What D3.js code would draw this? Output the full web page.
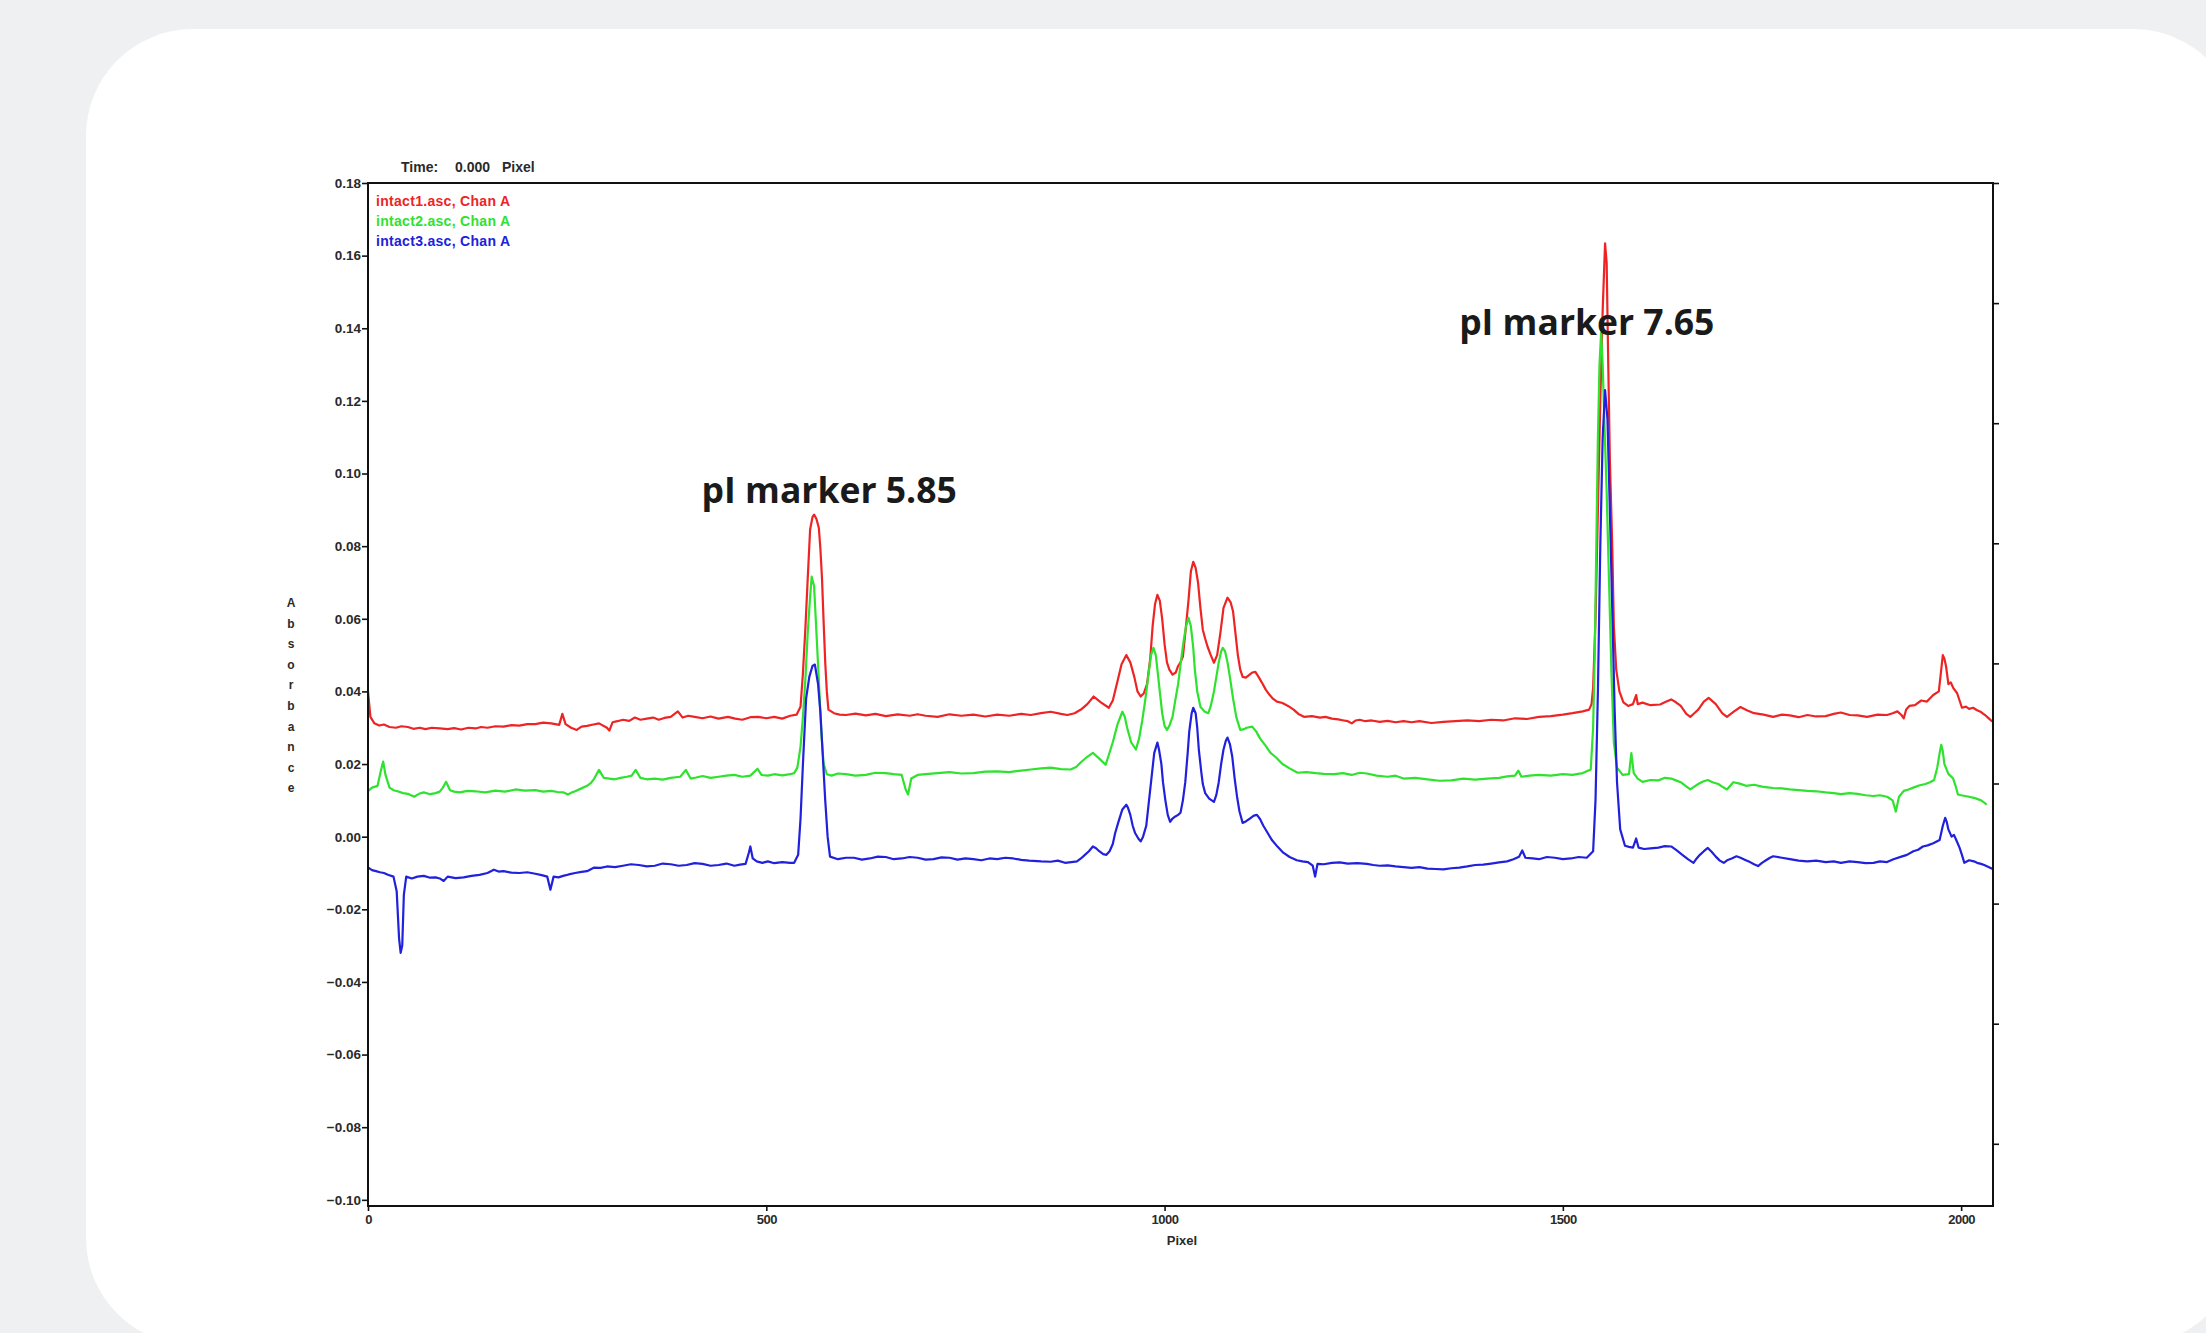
<!DOCTYPE html>
<html>
<head>
<meta charset="utf-8">
<script src="https://cdn.jsdelivr.net/npm/d3@7/dist/d3.min.js"></script>
<style>
  html, body { margin: 0; padding: 0; background: #eff0f2; }
  svg { display: block; }
</style>
</head>
<body>
<script>
// ---------- DATA ----------
const xTicks = [0, 500, 1000, 1500, 2000];
const yTicks = [-0.10, -0.08, -0.06, -0.04, -0.02, 0.00, 0.02, 0.04, 0.06, 0.08, 0.10, 0.12, 0.14, 0.16, 0.18];
const rightTicks = [0, 1, 2, 3, 4, 5, 6, 7, 8];
const seriesNames = ["intact1.asc, Chan A", "intact2.asc, Chan A", "intact3.asc, Chan A"];
const yTitleLetters = ["A", "b", "s", "o", "r", "b", "a", "n", "c", "e"];
const annotations = [
  { text: "pI marker 5.85", x: 579, y: 0.0919 },
  { text: "pI marker 7.65", x: 1530, y: 0.1381 }
];

const red = [
 [0,0.040],[3,0.033],[8,0.0312],[14,0.0306],[20,0.0309],[27,0.0302],[35,0.0300],[42,0.0304],[50,0.0302],[57,0.0297],[65,0.0300],[72,0.0296],[80,0.0300],[90,0.0298],[100,0.0296],[108,0.0299],[117,0.0295],
 [126,0.0300],[135,0.0298],[142,0.0302],[150,0.0300],[160,0.0304],[170,0.0303],[180,0.0307],[190,0.0306],[200,0.0310],[210,0.0310],[220,0.0314],[230,0.0312],[240,0.0308],[244,0.0338],[248,0.0310],
 [255,0.0300],[262,0.0294],[268,0.0303],[275,0.0305],[283,0.0309],[290,0.0312],[300,0.0300],[303,0.0292],[307,0.0315],[313,0.0318],[320,0.0322],[328,0.0319],[335,0.0328],[342,0.0322],
 [350,0.0325],[358,0.0328],[365,0.0322],[372,0.0327],[380,0.0330],[389,0.0345],[395,0.0328],[402,0.0333],[410,0.0330],[420,0.0326],[430,0.0331],[440,0.0325],[452,0.0330],[461,0.0325],[470,0.0322],
 [480,0.0329],[490,0.0330],[500,0.0326],[510,0.0330],[520,0.0325],[530,0.0333],[538,0.0336],[543,0.0358],[546,0.0450],[549,0.0570],[552,0.0710],[555,0.0845],
 [558,0.0880],[560,0.0887],[563,0.0875],[566,0.0850],[568,0.0790],[570,0.0708],[572,0.0590],[574,0.0480],[576,0.0400],
 [578,0.0350],[585,0.0340],[592,0.0336],[600,0.0335],[612,0.0339],[625,0.0334],[637,0.0338],[650,0.0332],[665,0.0337],[680,0.0333],[690,0.0337],[700,0.0333],[715,0.0330],[730,0.0337],[745,0.0333],[760,0.0336],
 [775,0.0331],[790,0.0336],[805,0.0333],[820,0.0338],[832,0.0335],[845,0.0340],[857,0.0344],[870,0.0338],[878,0.0335],[887,0.0340],[895,0.0350],[903,0.0365],[911,0.0386],[920,0.0370],
 [930,0.0355],[935,0.0375],[940,0.0420],[946,0.0475],[952,0.0500],[957,0.0480],[962,0.0440],[966,0.0400],[970,0.0386],[974,0.0395],[978,0.0420],[982,0.0490],[985,0.0580],[988,0.0640],[991,0.0666],[994,0.0650],[997,0.0600],
 [1000,0.0530],[1003,0.0480],[1006,0.0460],[1010,0.0446],[1014,0.0452],[1017,0.0470],[1020,0.0480],[1023,0.0496],[1026,0.0560],[1030,0.0650],[1033,0.0730],[1036,0.0757],[1039,0.0740],[1042,0.0700],[1045,0.0630],[1048,0.0570],
 [1051,0.0545],[1054,0.0523],[1058,0.0500],[1062,0.0479],[1066,0.0500],[1070,0.0560],[1074,0.0630],[1079,0.0658],[1083,0.0645],[1086,0.0620],[1089,0.0560],[1092,0.0500],[1095,0.0460],[1098,0.0440],[1102,0.0438],[1106,0.0445],
 [1110,0.0452],[1114,0.0454],[1118,0.0440],[1122,0.0425],[1127,0.0405],[1132,0.0390],[1136,0.0380],[1141,0.0372],[1148,0.0368],[1155,0.0360],[1162,0.0350],[1168,0.0338],[1175,0.0330],[1185,0.0332],[1195,0.0328],[1202,0.0330],[1210,0.0325],
 [1218,0.0323],[1225,0.0320],[1230,0.0318],[1235,0.0312],[1240,0.0320],[1245,0.0322],[1252,0.0318],[1260,0.0320],[1270,0.0316],[1280,0.0319],[1290,0.0315],[1300,0.0318],[1310,0.0315],[1320,0.0318],[1335,0.0313],[1350,0.0316],[1365,0.0318],[1380,0.0320],
 [1395,0.0318],[1410,0.0322],[1425,0.0320],[1440,0.0326],[1455,0.0324],[1470,0.0330],[1485,0.0332],[1500,0.0336],[1512,0.0340],[1525,0.0345],[1533,0.0350],[1536,0.0365],[1538,0.0410],
 [1541,0.0600],[1544,0.0900],[1547,0.1200],[1550,0.1450],[1553,0.1634],[1555,0.1580],[1557,0.1300],[1559,0.1040],
 [1562,0.0800],[1564,0.0580],[1567,0.0460],[1571,0.0400],[1576,0.0370],[1582,0.0360],[1588,0.0365],[1592,0.0390],
 [1594,0.0365],[1600,0.0369],[1610,0.0362],[1622,0.0364],[1630,0.0372],[1636,0.0378],[1642,0.0370],[1648,0.0360],[1655,0.0338],[1660,0.0330],[1665,0.0340],[1670,0.0350],[1677,0.0372],[1683,0.0382],
 [1692,0.0365],[1700,0.0340],[1706,0.0330],[1715,0.0345],[1723,0.0357],[1731,0.0348],[1740,0.0340],[1752,0.0336],[1764,0.0330],[1775,0.0336],[1785,0.0334],[1796,0.0329],[1807,0.0335],[1818,0.0331],
 [1830,0.0332],[1840,0.0338],[1849,0.0342],[1860,0.0335],[1870,0.0334],[1882,0.0330],[1895,0.0336],[1907,0.0335],[1914,0.0340],[1920,0.0345],[1925,0.0335],[1928,0.0326],[1931,0.0350],[1935,0.0360],[1942,0.0362],
 [1950,0.0375],[1957,0.0372],[1965,0.0390],[1972,0.0400],[1975,0.0460],[1977,0.0500],[1979,0.0490],[1981,0.0470],[1984,0.0420],[1987,0.0425],[1990,0.0410],[1995,0.0395],
 [2001,0.0355],[2006,0.0358],[2010,0.0352],[2015,0.0355],[2020,0.0348],[2025,0.0343],[2030,0.0335],[2035,0.0325],[2039,0.0317]
];

const green = [
 [0,0.0125],[5,0.0135],[12,0.0140],[16,0.0180],[19,0.0207],[22,0.0170],[27,0.0135],[32,0.0128],[37,0.0125],[44,0.0120],[50,0.0118],[58,0.0110],
 [64,0.0118],[70,0.0122],[78,0.0117],[85,0.0120],[90,0.0124],[94,0.0135],[98,0.0151],[103,0.0128],[108,0.0124],[115,0.0122],[125,0.0126],[135,0.0125],[147,0.0122],[160,0.0127],[172,0.0124],[185,0.0130],
 [197,0.0127],[210,0.0128],[220,0.0124],[230,0.0126],[238,0.0123],[245,0.0122],[251,0.0116],[256,0.0122],[260,0.0125],[268,0.0133],[275,0.0140],[280,0.0148],[284,0.0160],[290,0.0184],[296,0.0162],
 [303,0.0160],[310,0.0158],[317,0.0162],[325,0.0165],[331,0.0168],[336,0.0184],[342,0.0162],[350,0.0158],[360,0.0160],[370,0.0157],[380,0.0162],[392,0.0165],[399,0.0184],[405,0.0160],
 [412,0.0163],[420,0.0167],[430,0.0162],[440,0.0165],[450,0.0168],[460,0.0170],[470,0.0165],[480,0.0168],[489,0.0187],[494,0.0170],[502,0.0168],[510,0.0172],[520,0.0169],[530,0.0172],[535,0.0175],
 [539,0.0190],[543,0.0248],[546,0.0330],[549,0.0430],[552,0.0560],[555,0.0660],[557,0.0716],[560,0.0690],[563,0.0560],
 [566,0.0430],[569,0.0290],[572,0.0200],[576,0.0172],[582,0.0168],[590,0.0174],[600,0.0172],[612,0.0168],[625,0.0170],[637,0.0176],[650,0.0175],[660,0.0172],[670,0.0170],
 [675,0.0130],[678,0.0116],[682,0.0160],[690,0.0170],[700,0.0172],[715,0.0175],[730,0.0178],[745,0.0174],[760,0.0175],[775,0.0179],[790,0.0180],[805,0.0178],[820,0.0182],[832,0.0185],[845,0.0188],
 [857,0.0190],[870,0.0186],[882,0.0185],[889,0.0192],[895,0.0205],[903,0.0220],[910,0.0231],[918,0.0215],[926,0.0198],[930,0.0225],[935,0.0260],[941,0.0310],
 [947,0.0344],[950,0.0330],[953,0.0300],[958,0.0260],[964,0.0240],[968,0.0270],[972,0.0320],[976,0.0380],[980,0.0450],[983,0.0500],[986,0.0520],[989,0.0500],[991,0.0460],[994,0.0400],[997,0.0340],
 [1000,0.0305],[1003,0.0294],[1006,0.0305],[1010,0.0330],[1013,0.0370],[1017,0.0420],[1021,0.0490],[1024,0.0540],[1027,0.0580],[1030,0.0603],[1033,0.0580],[1036,0.0520],[1038,0.0460],[1041,0.0400],[1045,0.0358],
 [1050,0.0345],[1055,0.0340],[1058,0.0360],[1062,0.0400],[1065,0.0440],[1068,0.0480],[1071,0.0510],[1073,0.0520],[1076,0.0510],[1079,0.0480],[1082,0.0440],[1086,0.0380],[1090,0.0330],[1095,0.0294],[1100,0.0296],[1103,0.0300],
 [1110,0.0303],[1115,0.0290],[1120,0.0270],[1127,0.0250],[1133,0.0231],[1140,0.0218],[1148,0.0200],[1157,0.0188],[1167,0.0176],[1178,0.0178],[1190,0.0175],[1200,0.0173],[1213,0.0172],[1224,0.0175],[1235,0.0170],
 [1245,0.0176],[1254,0.0174],[1266,0.0168],[1280,0.0165],[1290,0.0168],[1300,0.0160],[1315,0.0162],[1330,0.0158],[1345,0.0154],[1360,0.0155],[1375,0.0160],[1390,0.0157],[1405,0.0160],[1420,0.0162],[1430,0.0166],[1440,0.0168],
 [1444,0.0182],[1448,0.0165],[1458,0.0168],[1470,0.0170],[1485,0.0168],[1500,0.0172],[1512,0.0170],[1525,0.0175],[1535,0.0185],[1538,0.0300],[1540,0.0500],
 [1542,0.0800],[1544,0.1100],[1546,0.1300],[1548,0.1387],[1550,0.1300],[1552,0.1150],[1555,0.0950],[1558,0.0700],
 [1561,0.0450],[1564,0.0260],[1568,0.0190],[1575,0.0170],[1583,0.0172],[1586,0.0230],[1589,0.0175],[1594,0.0160],[1600,0.0151],
 [1610,0.0156],[1620,0.0155],[1628,0.0162],[1636,0.0160],[1642,0.0155],[1648,0.0150],[1654,0.0140],[1660,0.0130],[1665,0.0138],[1670,0.0145],[1676,0.0152],[1682,0.0156],[1688,0.0150],[1695,0.0145],[1700,0.0138],[1706,0.0130],
 [1714,0.0150],[1722,0.0146],[1730,0.0140],[1740,0.0143],[1750,0.0138],[1757,0.0136],[1764,0.0134],[1775,0.0133],[1785,0.0130],[1796,0.0128],[1807,0.0126],[1818,0.0125],[1830,0.0122],[1840,0.0120],[1849,0.0117],
 [1860,0.0120],[1870,0.0118],[1880,0.0114],[1890,0.0112],[1898,0.0114],[1907,0.0110],[1914,0.0100],[1918,0.0069],[1922,0.0110],[1928,0.0126],[1934,0.0130],[1940,0.0135],[1947,0.0141],
 [1955,0.0145],[1961,0.0150],[1966,0.0156],[1970,0.0190],[1973,0.0230],[1975,0.0253],[1977,0.0235],[1979,0.0200],[1984,0.0173],[1990,0.0160],[1993,0.0140],[1996,0.0116],
 [2000,0.0114],[2005,0.0112],[2010,0.0110],[2016,0.0107],[2020,0.0104],[2025,0.0100],[2029,0.0094],[2032,0.0088]
];

const blue = [
 [0,-0.0085],[5,-0.0092],[10,-0.0095],[15,-0.0098],[20,-0.0100],[25,-0.0105],[32,-0.0110],[36,-0.0150],[39,-0.0280],[41,-0.0320],[43,-0.0300],
 [45,-0.0160],[48,-0.0110],[55,-0.0115],[62,-0.0110],[70,-0.0108],[78,-0.0113],[85,-0.0112],[90,-0.0115],[95,-0.0122],[100,-0.0110],[110,-0.0114],[120,-0.0112],[130,-0.0108],[140,-0.0105],
 [150,-0.0100],[158,-0.0091],[164,-0.0096],[170,-0.0095],[180,-0.0099],[190,-0.0100],[200,-0.0098],[210,-0.0102],[218,-0.0106],[225,-0.0110],[229,-0.0146],[233,-0.0110],[239,-0.0112],[245,-0.0108],
 [252,-0.0104],[260,-0.0100],[268,-0.0097],[275,-0.0095],[284,-0.0085],[292,-0.0086],[300,-0.0082],[310,-0.0084],[320,-0.0080],[330,-0.0076],[340,-0.0078],[350,-0.0082],[360,-0.0080],[370,-0.0074],[380,-0.0076],
 [390,-0.0080],[400,-0.0078],[410,-0.0073],[420,-0.0075],[430,-0.0080],[440,-0.0078],[450,-0.0074],[460,-0.0080],[467,-0.0077],[474,-0.0075],[478,-0.0045],[480,-0.0027],[483,-0.0060],
 [488,-0.0068],[495,-0.0072],[502,-0.0068],[510,-0.0073],[520,-0.0070],[530,-0.0072],[535,-0.0072],[540,-0.0050],[543,0.0050],[546,0.0200],[550,0.0380],
 [554,0.0440],[558,0.0470],[561,0.0474],[565,0.0420],[568,0.0340],[571,0.0220],[574,0.0100],[577,0.0000],[580,-0.0055],
 [590,-0.0062],[600,-0.0058],[610,-0.0058],[620,-0.0063],[630,-0.0060],[640,-0.0055],[650,-0.0056],[660,-0.0062],[670,-0.0060],[680,-0.0056],[690,-0.0058],[700,-0.0063],[710,-0.0062],[720,-0.0057],[730,-0.0058],
 [740,-0.0063],[750,-0.0060],[760,-0.0062],[770,-0.0065],[780,-0.0060],[790,-0.0062],[800,-0.0058],[810,-0.0060],[820,-0.0064],[830,-0.0066],[845,-0.0068],[857,-0.0069],[866,-0.0066],[875,-0.0072],
 [883,-0.0070],[890,-0.0068],[895,-0.0060],[900,-0.0050],[905,-0.0040],[910,-0.0027],[914,-0.0032],[918,-0.0040],[923,-0.0048],[927,-0.0050],[931,-0.0040],[935,-0.0020],[938,0.0010],[942,0.0040],[947,0.0075],
 [952,0.0088],[954,0.0080],[957,0.0060],[960,0.0030],[963,0.0010],[967,-0.0005],[970,-0.0013],[973,0.0000],[977,0.0030],[980,0.0090],[983,0.0150],[987,0.0230],[991,0.0259],[993,0.0240],[996,0.0200],
 [998,0.0150],[1001,0.0100],[1004,0.0060],[1007,0.0041],[1010,0.0050],[1013,0.0055],[1017,0.0060],[1020,0.0066],[1023,0.0100],[1026,0.0150],[1029,0.0230],[1031,0.0290],[1034,0.0340],[1036,0.0355],[1039,0.0340],[1041,0.0300],[1043,0.0240],
 [1046,0.0180],[1048,0.0145],[1051,0.0120],[1056,0.0105],[1062,0.0096],[1065,0.0115],[1068,0.0150],[1071,0.0200],[1074,0.0240],[1077,0.0265],[1079,0.0273],[1082,0.0255],[1085,0.0220],[1088,0.0160],
 [1091,0.0110],[1094,0.0070],[1098,0.0038],[1102,0.0042],[1107,0.0050],[1112,0.0058],[1116,0.0060],[1120,0.0048],[1124,0.0030],[1130,0.0008],[1135,-0.0010],[1142,-0.0028],[1149,-0.0044],[1157,-0.0056],[1166,-0.0065],
 [1173,-0.0068],[1180,-0.0070],[1186,-0.0080],[1189,-0.0110],[1192,-0.0075],[1200,-0.0076],[1210,-0.0072],[1220,-0.0071],[1230,-0.0074],[1242,-0.0073],[1254,-0.0075],[1262,-0.0078],
 [1270,-0.0080],[1280,-0.0079],[1290,-0.0082],[1300,-0.0084],[1310,-0.0086],[1320,-0.0084],[1330,-0.0088],[1340,-0.0089],[1350,-0.0090],[1360,-0.0087],[1370,-0.0085],[1380,-0.0082],[1390,-0.0078],[1400,-0.0077],
 [1410,-0.0074],[1420,-0.0071],[1430,-0.0068],[1438,-0.0062],[1445,-0.0055],[1449,-0.0038],[1453,-0.0058],[1462,-0.0060],[1470,-0.0062],[1480,-0.0056],[1490,-0.0058],[1500,-0.0062],
 [1510,-0.0060],[1520,-0.0056],[1530,-0.0058],[1538,-0.0040],[1541,0.0100],[1544,0.0400],[1547,0.0800],[1550,0.1100],[1553,0.1230],
 [1556,0.1150],[1559,0.0900],[1562,0.0630],[1565,0.0350],[1568,0.0150],[1572,0.0020],[1578,-0.0025],[1583,-0.0028],[1588,-0.0030],
 [1592,-0.0005],[1595,-0.0030],[1602,-0.0034],[1610,-0.0032],[1620,-0.0030],[1628,-0.0026],[1636,-0.0027],[1643,-0.0038],[1650,-0.0050],[1657,-0.0062],[1664,-0.0072],[1668,-0.0060],[1672,-0.0050],
 [1677,-0.0040],[1682,-0.0031],[1687,-0.0042],[1692,-0.0055],[1697,-0.0066],[1702,-0.0072],[1707,-0.0064],[1712,-0.0060],[1718,-0.0054],[1723,-0.0058],[1729,-0.0064],[1735,-0.0070],[1740,-0.0076],[1745,-0.0081],
 [1750,-0.0072],[1755,-0.0065],[1760,-0.0058],[1764,-0.0054],[1775,-0.0058],[1785,-0.0062],[1796,-0.0066],[1807,-0.0068],[1818,-0.0066],[1830,-0.0070],[1840,-0.0068],[1849,-0.0072],[1860,-0.0068],[1870,-0.0070],
 [1880,-0.0073],[1890,-0.0072],[1898,-0.0068],[1907,-0.0070],[1915,-0.0062],[1925,-0.0055],[1932,-0.0050],[1940,-0.0040],[1946,-0.0036],[1952,-0.0027],[1958,-0.0024],[1965,-0.0018],[1973,-0.0009],
 [1977,0.0030],[1980,0.0052],[1982,0.0040],[1984,0.0020],[1988,0.0000],[1991,0.0005],[1994,-0.0010],[1998,-0.0030],[2001,-0.0050],[2004,-0.0072],[2010,-0.0065],
 [2016,-0.0068],[2020,-0.0072],[2025,-0.0075],[2029,-0.0078],[2033,-0.0082],[2037,-0.0086],[2040,-0.0090]
];

const seriesColors = ["#ee2424", "#2ee22e", "#2020dd"];

// ---------- CHART ----------
const W = 2206, H = 1333;
const plot = { left: 368, right: 1993, top: 183, bottom: 1206 };

const svg = d3.select("body").append("svg").attr("width", W).attr("height", H);

svg.append("rect").attr("x", 0).attr("y", 0).attr("width", W).attr("height", H).attr("fill", "#eff0f2");
svg.append("rect").attr("x", 86).attr("y", 29).attr("width", 2154).attr("height", 1316)
  .attr("rx", 107).attr("ry", 107).attr("fill", "#ffffff");

const x = d3.scaleLinear().domain([0, 2040]).range([plot.left, plot.right]);
const y = d3.scaleLinear().domain([-0.1017, 0.18]).range([plot.bottom, plot.top]);
const yR = d3.scaleLinear().domain([0, (plot.bottom - plot.top) / 120.1]).range([plot.top, plot.bottom]);

const axisFont = "'Liberation Sans', Arial, sans-serif";

svg.append("defs").append("clipPath").attr("id", "clip")
  .append("rect").attr("x", plot.left).attr("y", plot.top)
  .attr("width", plot.right - plot.left).attr("height", plot.bottom - plot.top);

// series lines
const line = d3.line().x(d => x(d[0])).y(d => y(d[1]));
const gLines = svg.append("g").attr("clip-path", "url(#clip)");
[red, green, blue].forEach((s, i) => {
  gLines.append("path").datum(s).attr("d", line)
    .attr("fill", "none").attr("stroke", seriesColors[i]).attr("stroke-width", 2.2)
    .attr("stroke-linejoin", "round");
});

// frame
svg.append("rect").attr("x", plot.left).attr("y", plot.top)
  .attr("width", plot.right - plot.left).attr("height", plot.bottom - plot.top)
  .attr("fill", "none").attr("stroke", "#111").attr("stroke-width", 2);

// left axis
const gy = svg.append("g").attr("transform", `translate(${plot.left},0)`)
  .call(d3.axisLeft(y).tickValues(yTicks).tickSize(6).tickPadding(1).tickFormat(d3.format(".2f")));
gy.select(".domain").remove();
gy.selectAll("line").attr("stroke", "#111").attr("stroke-width", 1.6);
gy.selectAll("text").attr("font-family", axisFont).attr("font-size", 13.5).attr("font-weight", "bold")
  .attr("fill", "#2a2a2a");

// bottom axis
const gx = svg.append("g").attr("transform", `translate(0,${plot.bottom})`)
  .call(d3.axisBottom(x).tickValues(xTicks).tickSize(5).tickPadding(4).tickFormat(d3.format("d")));
gx.select(".domain").remove();
gx.selectAll("line").attr("stroke", "#111").attr("stroke-width", 1.6);
gx.selectAll("text").attr("font-family", axisFont).attr("font-size", 13).attr("font-weight", "bold")
  .attr("fill", "#2a2a2a").style("letter-spacing", "-0.5px");

// right axis (unlabelled ticks)
const gr = svg.append("g").attr("transform", `translate(${plot.right},0)`)
  .call(d3.axisRight(yR).tickValues(rightTicks).tickSize(6).tickFormat(""));
gr.select(".domain").remove();
gr.selectAll("line").attr("stroke", "#111").attr("stroke-width", 1.6);

// x title
svg.append("text").attr("x", 1182).attr("y", 1245).attr("text-anchor", "middle")
  .attr("font-family", axisFont).attr("font-size", 13).attr("font-weight", "bold").attr("fill", "#2a2a2a")
  .text("Pixel");

// y title (stacked letters)
svg.append("g").selectAll("text").data(yTitleLetters).join("text")
  .attr("x", 291).attr("y", (d, i) => 607 + i * 20.6).attr("text-anchor", "middle")
  .attr("font-family", axisFont).attr("font-size", 12).attr("font-weight", "bold").attr("fill", "#2a2a2a")
  .text(d => d);

// header "Time: 0.000 Pixel"
const hdr = svg.append("g").attr("font-family", axisFont).attr("font-size", 14).attr("font-weight", "bold").attr("fill", "#2a2a2a");
hdr.append("text").attr("x", 401).attr("y", 172).text("Time:");
hdr.append("text").attr("x", 455).attr("y", 172).text("0.000");
hdr.append("text").attr("x", 502).attr("y", 172).text("Pixel");

// legend
svg.append("g").selectAll("text").data(seriesNames).join("text")
  .attr("x", 376).attr("y", (d, i) => 206 + i * 20)
  .attr("font-family", axisFont).attr("font-size", 14).attr("font-weight", "bold")
  .style("letter-spacing", "0.3px")
  .attr("fill", (d, i) => seriesColors[i]).text(d => d);

// annotations
svg.append("g").selectAll("text").data(annotations).join("text")
  .attr("x", d => x(d.x)).attr("y", d => y(d.y)).attr("text-anchor", "middle")
  .attr("font-family", "'Open Sans', sans-serif").attr("font-size", 35.5).attr("font-weight", "bold")
  .attr("fill", "#1a1a1a").text(d => d.text);
</script>
</body>
</html>
